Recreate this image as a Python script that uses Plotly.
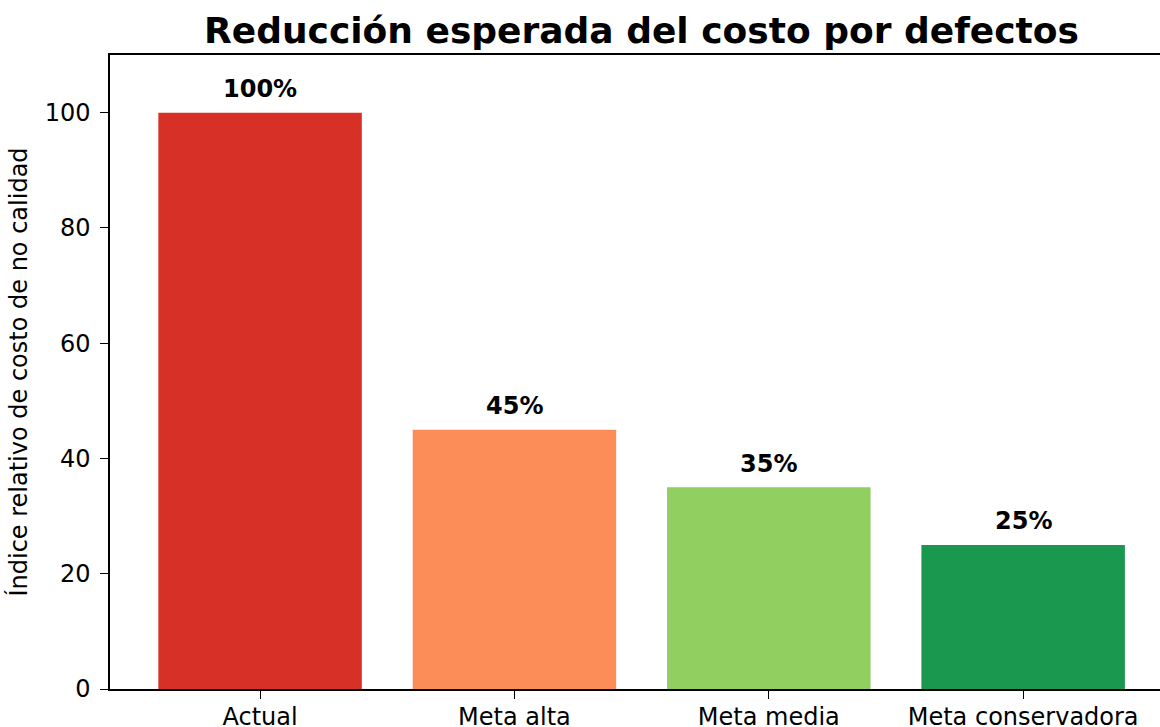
import plotly.graph_objects as go

categories = ["Actual", "Meta alta", "Meta media", "Meta conservadora"]
values = [100, 45, 35, 25]
labels = ["100%", "45%", "35%", "25%"]
colors = ["#d73027", "#fc8d59", "#91cf60", "#1a9850"]
yticks = [0, 20, 40, 60, 80, 100]

FONT = "DejaVu Sans"

fig = go.Figure()
fig.add_trace(go.Bar(
    x=list(range(len(categories))), y=values,
    marker=dict(color=colors, line=dict(width=0)),
    width=0.8, showlegend=False, hoverinfo="skip",
))

for i, (v, t) in enumerate(zip(values, labels)):
    fig.add_annotation(x=i, y=v + 2, text="<b>%s</b>" % t, showarrow=False,
                       yanchor="bottom", xanchor="center",
                       font=dict(family=FONT, size=24, color="black"), yshift=-4)

fig.update_layout(
    width=1160, height=727,
    margin=dict(l=110, r=0, t=55, b=38, autoexpand=False),
    paper_bgcolor="white", plot_bgcolor="white",
    bargap=0.2,
    title=dict(text="<b>Reducción esperada del costo por defectos</b>",
               x=(208 + 1075) / 2 / 1160, xanchor="center",
               y=1 - 30 / 727, yanchor="middle",
               font=dict(family=FONT, size=36, color="black")),
    xaxis=dict(range=[-0.59, 3.538], tickmode="array",
               tickvals=list(range(len(categories))), ticktext=categories,
               showline=True, linecolor="black", linewidth=1.5, mirror=True,
               ticks="outside", ticklen=8, tickwidth=1.3, tickcolor="black",
               showgrid=False, zeroline=False, ticklabelstandoff=-3,
               automargin=False,
               tickfont=dict(family=FONT, size=24, color="black")),
    yaxis=dict(range=[0, 110], tickmode="array", tickvals=yticks,
               showline=True, linecolor="black", linewidth=1.5, mirror=False,
               ticks="outside", ticklen=8, tickwidth=1.3, tickcolor="black",
               showgrid=False, zeroline=False, ticklabelstandoff=5,
               automargin=False,
               tickfont=dict(family=FONT, size=24, color="black"),
               title=dict(text="Índice relativo de costo de no calidad",
                          font=dict(family=FONT, size=24, color="black"),
                          standoff=10)),
)

fig.write_html("out.html")
